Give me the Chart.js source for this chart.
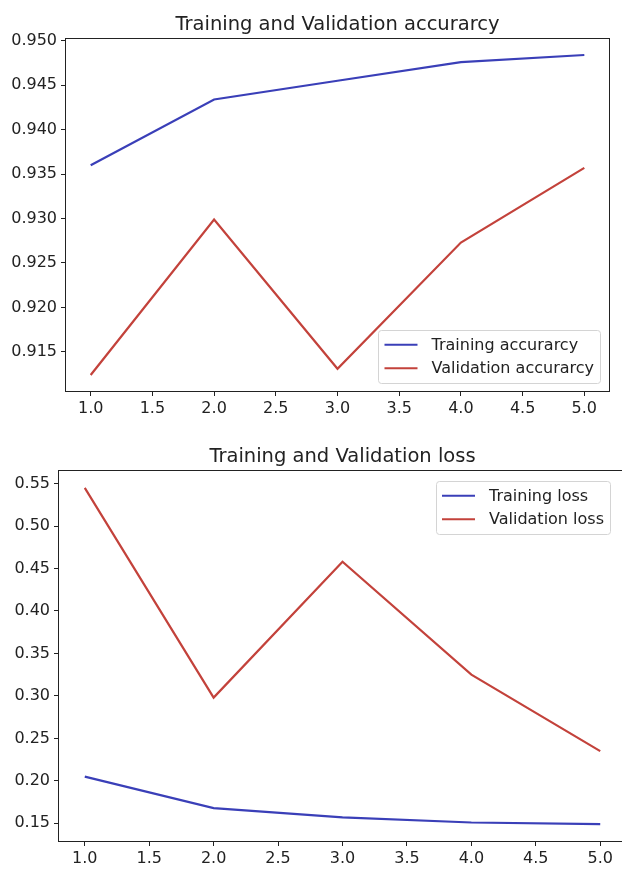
<!DOCTYPE html>
<html>
<head>
<meta charset="utf-8">
<script src="https://cdn.jsdelivr.net/npm/chart.js@4"></script>
<style>
html,body{margin:0;background:#fff;overflow:hidden;}
body{width:622px;height:872px;position:relative;}
#accWrap{position:absolute;left:0;top:0;width:622px;height:430px;overflow:hidden;}
#lossWrap{position:absolute;left:0;top:430px;width:622px;height:442px;overflow:hidden;}
canvas{display:block;}
</style>
</head>
<body>
<div id="accWrap"><canvas id="accChart" width="622" height="430"></canvas></div>
<div id="lossWrap"><canvas id="lossChart" width="640" height="442"></canvas></div>
<script>
const epochs = [1, 2, 3, 4, 5];
const trainAcc = [0.9360, 0.9434, 0.9455, 0.9476, 0.9484];
const valAcc = [0.9124, 0.9299, 0.9131, 0.9273, 0.9357];
const trainLoss = [0.205, 0.168, 0.157, 0.151, 0.149];
const valLoss = [0.545, 0.298, 0.458, 0.325, 0.235];

const BLUE = "#3a3fb8";
const RED = "#c3423b";
const INK = "#222";
const FONT = "DejaVu Sans";

// matplotlib style title centred over the axes
const axesTitle = {
  id: "axesTitle",
  afterDraw(chart, args, opts){
    const {ctx, chartArea: a} = chart;
    ctx.save();
    ctx.font = `19.5px "${FONT}"`;
    ctx.fillStyle = INK;
    ctx.textAlign = "center";
    ctx.textBaseline = "alphabetic";
    ctx.fillText(opts.text, (a.left + a.right) / 2, a.top - 9);
    ctx.restore();
  }
};

// full box round the plot
const frame = {
  id: "frame",
  afterDraw(chart){
    const {ctx, chartArea: a} = chart;
    ctx.save();
    ctx.strokeStyle = INK;
    ctx.lineWidth = 1;
    ctx.strokeRect(Math.round(a.left) - 0.5, Math.round(a.top) - 0.5,
      Math.round(a.right - a.left) + 1, Math.round(a.bottom - a.top) + 1);
    ctx.restore();
  }
};

// legend box inside the axes
const boxLegend = {
  id: "boxLegend",
  afterDraw(chart, args, opts){
    const {ctx, chartArea: a} = chart;
    const items = chart.data.datasets;
    ctx.save();
    ctx.font = `16px "${FONT}"`;
    const textW = Math.max(...items.map(d => ctx.measureText(d.label).width));
    const rowH = 23.5;
    const w = 6 + 33 + 14 + textW + 6;
    const h = items.length * rowH + 6;
    const x = a.right - opts.dx - w;
    const y = opts.corner === "lower" ? a.bottom - opts.dy - h : a.top + opts.dy;
    ctx.fillStyle = "rgba(255,255,255,0.85)";
    ctx.strokeStyle = "#d4d4d4";
    ctx.lineWidth = 1;
    ctx.beginPath();
    ctx.roundRect(Math.round(x) + 0.5, Math.round(y) + 0.5, Math.round(w), Math.round(h), 3);
    ctx.fill();
    ctx.stroke();
    items.forEach((d, i) => {
      const cy = y + 3 + rowH / 2 + i * rowH;
      ctx.strokeStyle = d.borderColor;
      ctx.lineWidth = 2.2;
      ctx.beginPath();
      ctx.moveTo(x + 6, cy);
      ctx.lineTo(x + 39, cy);
      ctx.stroke();
      ctx.fillStyle = INK;
      ctx.textBaseline = "middle";
      ctx.fillText(d.label, x + 53, cy + 1);
    });
    ctx.restore();
  }
};

function pts(ys){
  return epochs.map((e, i) => ({x: e, y: ys[i]}));
}

// matplotlib default 5% margins
function padRange(arrs){
  const all = [].concat(...arrs);
  const lo = Math.min(...all), hi = Math.max(...all);
  const m = (hi - lo) * 0.05;
  return [lo - m, hi + m];
}

function makeChart(el, cfg){
  const [ymin, ymax] = padRange([cfg.train, cfg.val]);
  const xr = padRange([epochs]);
  const tickFont = {family: FONT, size: 16};
  const grid = {display: true, drawOnChartArea: false, drawTicks: true, tickLength: 5, color: INK, tickColor: INK, tickWidth: 1};
  return new Chart(el, {
    type: "line",
    data: {
      datasets: [
        {label: cfg.trainLabel, data: pts(cfg.train), borderColor: BLUE, backgroundColor: BLUE, borderWidth: 2.2, pointRadius: 0, tension: 0},
        {label: cfg.valLabel, data: pts(cfg.val), borderColor: RED, backgroundColor: RED, borderWidth: 2.2, pointRadius: 0, tension: 0}
      ]
    },
    options: {
      responsive: false,
      animation: false,
      events: [],
      layout: {padding: cfg.pad},
      scales: {
        x: {
          type: "linear", min: xr[0], max: xr[1],
          grid, border: {display: false},
          ticks: {stepSize: 0.5, includeBounds: false, autoSkip: false, maxRotation: 0, font: tickFont, color: INK, padding: 3,
            callback: v => v.toFixed(1)},
          afterFit: s => { s.height = cfg.xh; }
        },
        y: {
          min: ymin, max: ymax,
          grid, border: {display: false},
          ticks: {stepSize: cfg.step, includeBounds: false, font: tickFont, color: INK, padding: 4,
            callback: v => v.toFixed(cfg.digits)},
          afterFit: s => { s.width = cfg.yw; }
        }
      },
      plugins: {
        legend: {display: false},
        tooltip: {enabled: false},
        axesTitle: {text: cfg.title},
        boxLegend: cfg.legend
      }
    },
    plugins: [axesTitle, frame, boxLegend]
  });
}

makeChart(document.getElementById("accChart"), {
  title: "Training and Validation accurarcy",
  trainLabel: "Training accurarcy", valLabel: "Validation accurarcy",
  train: trainAcc, val: valAcc, step: 0.005, digits: 3,
  pad: {top: 39, right: 13, left: 0, bottom: 0}, yw: 66, xh: 39,
  legend: {corner: "lower", dx: 9, dy: 8}
});

makeChart(document.getElementById("lossChart"), {
  title: "Training and Validation loss",
  trainLabel: "Training loss", valLabel: "Validation loss",
  train: trainLoss, val: valLoss, step: 0.05, digits: 2,
  pad: {top: 41, right: 14, left: 0, bottom: 0}, yw: 59, xh: 31,
  legend: {corner: "upper", dx: 16, dy: 10}
});
</script>
</body>
</html>
